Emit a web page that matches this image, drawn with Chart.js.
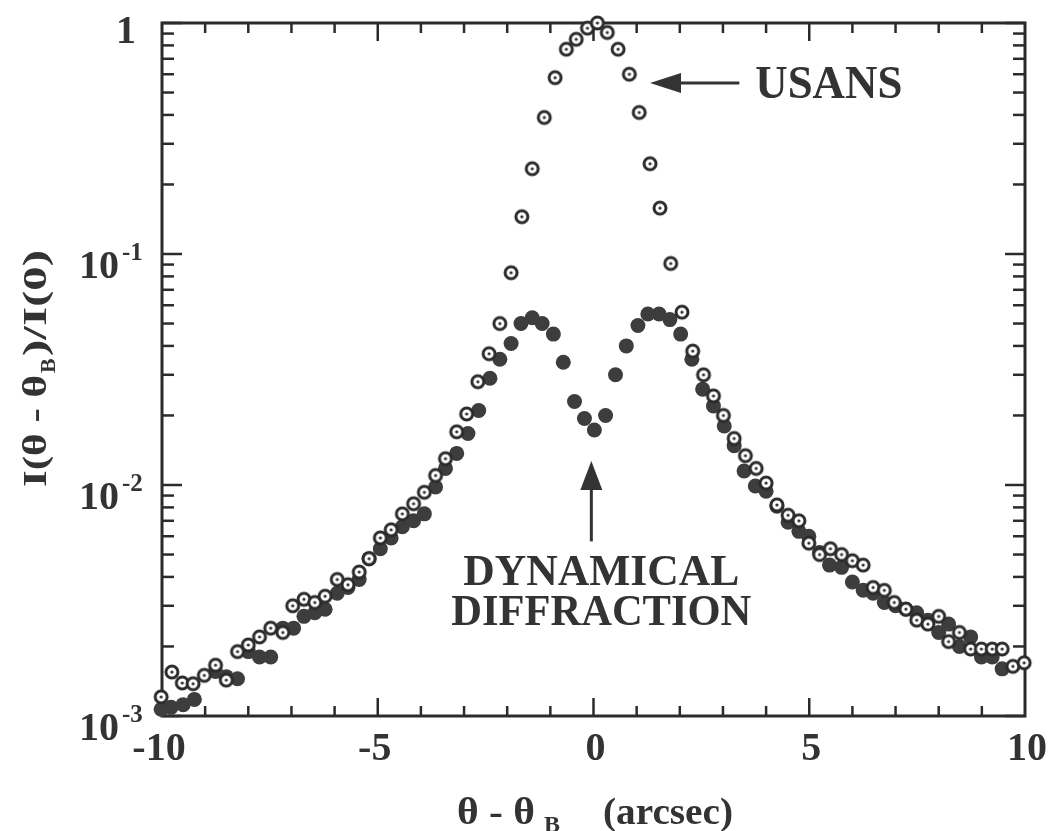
<!DOCTYPE html>
<html><head><meta charset="utf-8">
<script src="https://cdn.jsdelivr.net/npm/chart.js@4/dist/chart.umd.min.js"></script>
<style>html,body{margin:0;padding:0;background:#fff;}canvas{display:block;}</style>
</head><body>
<canvas id="c" width="1052" height="831" style="width:1052px;height:831px"></canvas>
<script>
// ---- data (theta - theta_B in arcsec, normalised intensity) ----
const usansX = [-10.02,-9.77,-9.53,-9.28,-9.02,-8.76,-8.51,-8.25,-8.0,-7.74,-7.48,-7.2,-6.97,-6.71,-6.46,-6.22,-5.94,-5.69,-5.43,-5.2,-4.94,-4.69,-4.43,-4.17,-3.92,-3.66,-3.43,-3.17,-2.94,-2.68,-2.42,-2.17,-1.91,-1.66,-1.42,-1.14,-0.89,-0.63,-0.40,-0.14,0.09,0.32,0.57,0.83,1.06,1.31,1.54,1.79,2.05,2.3,2.55,2.78,3.01,3.26,3.52,3.77,4.0,4.25,4.51,4.76,4.99,5.24,5.49,5.75,6.0,6.25,6.48,6.74,6.97,7.24,7.49,7.75,8.0,8.23,8.48,8.74,8.99,9.24,9.47,9.72,9.98];
const usansY = [0.00121,0.00155,0.00139,0.00138,0.0015,0.00166,0.00143,0.0019,0.00203,0.0022,0.0024,0.0023,0.0030,0.0032,0.0031,0.0033,0.0039,0.0037,0.0042,0.0048,0.0059,0.0064,0.0075,0.0083,0.0093,0.011,0.013,0.017,0.0203,0.028,0.037,0.050,0.083,0.145,0.234,0.39,0.58,0.77,0.85,0.95,1.0,0.91,0.77,0.60,0.41,0.246,0.158,0.091,0.056,0.038,0.030,0.0243,0.020,0.0159,0.0134,0.0118,0.0102,0.0082,0.0074,0.0070,0.0056,0.0050,0.0053,0.0050,0.0047,0.0045,0.0036,0.0035,0.0031,0.0029,0.0026,0.0025,0.0027,0.0021,0.0023,0.00195,0.00195,0.00195,0.00195,0.00164,0.0017];
const dynX = [-10.02,-9.79,-9.51,-9.25,-8.76,-8.51,-8.25,-8.0,-7.74,-7.48,-7.2,-6.95,-6.71,-6.46,-6.22,-5.94,-5.69,-5.43,-5.2,-4.94,-4.69,-4.43,-4.17,-3.92,-3.66,-3.43,-3.17,-2.91,-2.66,-2.4,-2.17,-1.91,-1.68,-1.42,-1.19,-0.93,-0.7,-0.44,-0.21,0.02,0.28,0.51,0.76,1.03,1.26,1.52,1.77,2.02,2.28,2.53,2.78,3.03,3.26,3.49,3.75,4.0,4.25,4.51,4.76,4.99,5.24,5.47,5.75,6.0,6.25,6.48,6.74,7.0,7.24,7.49,7.75,8.0,8.23,8.48,8.74,8.99,9.24,9.47];
const dynY = [0.00107,0.00109,0.00112,0.00118,0.00156,0.00148,0.00145,0.0019,0.0018,0.0018,0.0024,0.0024,0.0027,0.0028,0.0029,0.0034,0.0036,0.0039,0.0048,0.0053,0.0059,0.0066,0.0070,0.0075,0.0098,0.0118,0.0137,0.0167,0.021,0.029,0.035,0.041,0.050,0.053,0.050,0.045,0.034,0.023,0.0194,0.0173,0.020,0.030,0.040,0.049,0.055,0.055,0.052,0.045,0.035,0.026,0.022,0.018,0.0148,0.0115,0.0099,0.0094,0.0081,0.0069,0.0063,0.0060,0.0051,0.0045,0.0044,0.0038,0.0035,0.0034,0.0031,0.0030,0.0029,0.0028,0.0026,0.0023,0.0025,0.0020,0.0022,0.0018,0.0018,0.0016];

const xTickValues = [-10, -5, 0, 5, 10];
const xTickLabels = ['-10', '-5', '0', '5', '10'];
const yTickValues = [1, 0.1, 0.01, 0.001];
const yTickBases = ['1', '10', '10', '10'];
const yTickExponents = ['', '-1', '-2', '-3'];

// annotation anchors (data coordinates)
const usansLabel = {text: 'USANS', x: 3.75, y: 0.555};
const usansArrow = {xTail: 3.38, xTip: 1.31, y: 0.55};
const dynLabel = {lines: ['DYNAMICAL', 'DIFFRACTION'], x: 0.18, y1: 0.0037, y2: 0.00248};
const dynArrow = {x: -0.05, yTail: 0.0057, yTip: 0.0127};

const INK = '#2b2b2b';
const SERIF = '"Liberation Serif", "Times New Roman", serif';

// marker: open circle with a centre dot
function makeRing() {
  const c = document.createElement('canvas');
  c.width = 18; c.height = 18;
  const g = c.getContext('2d');
  g.beginPath(); g.arc(9, 9, 6, 0, Math.PI * 2);
  g.fillStyle = '#fff'; g.fill();
  g.lineWidth = 3; g.strokeStyle = INK; g.stroke();
  g.beginPath(); g.arc(9, 9, 1.6, 0, Math.PI * 2);
  g.fillStyle = INK; g.fill();
  return c;
}

function line(ctx, x1, y1, x2, y2) {
  ctx.beginPath(); ctx.moveTo(x1, y1); ctx.lineTo(x2, y2); ctx.stroke();
}
function fitText(ctx, text, x, y, font, width, align) {
  ctx.save();
  ctx.font = font;
  const w = ctx.measureText(text).width;
  const s = width / w;
  let left = x;
  if (align === 'center') left = x - width / 2;
  ctx.translate(left, y);
  ctx.scale(s, 1);
  ctx.textAlign = 'left';
  ctx.fillText(text, 0, 0);
  ctx.restore();
}

const framePlugin = {
  id: 'frame',
  beforeDatasetsDraw(chart) {
    const {ctx, chartArea: a, scales: {x, y}} = chart;
    ctx.save();
    ctx.strokeStyle = INK;
    ctx.lineCap = 'butt';
    ctx.lineWidth = 2.5;
    for (let v = -9; v <= 9; v++) {
      const px = x.getPixelForValue(v);
      const L = (v % 5 === 0) ? 18 : 10;
      line(ctx, px, a.bottom, px, a.bottom - L);
      line(ctx, px, a.top, px, a.top + L);
    }
    for (let e = -3; e <= 0; e++) {
      for (let k = 1; k <= 9; k++) {
        const v = k * Math.pow(10, e);
        if (v > 1.0001) break;
        const py = y.getPixelForValue(v);
        const L = k === 1 ? 20 : 12;
        line(ctx, a.left, py, a.left + L, py);
        line(ctx, a.right, py, a.right - L, py);
      }
    }
    ctx.lineWidth = 3;
    ctx.strokeRect(a.left, a.top, a.right - a.left, a.bottom - a.top);
    ctx.restore();
  },
  afterDraw(chart) {
    const {ctx, chartArea: a, scales: {x, y}} = chart;
    ctx.save();
    ctx.fillStyle = '#333';
    ctx.strokeStyle = '#333';
    ctx.textBaseline = 'alphabetic';

    // x tick labels
    ctx.font = 'bold 40px ' + SERIF;
    ctx.textAlign = 'center';
    xTickValues.forEach((v, i) => {
      ctx.fillText(xTickLabels[i], x.getPixelForValue(v) + (v < 0 ? -3 : 2), a.bottom + 44);
    });

    // y tick labels
    yTickValues.forEach((v, i) => {
      const py = y.getPixelForValue(v);
      ctx.font = 'bold 40px ' + SERIF;
      ctx.textAlign = 'right';
      if (yTickExponents[i] === '') {
        ctx.fillText(yTickBases[i], 136, py + 20);
      } else {
        ctx.fillText(yTickBases[i], 119, py + 24);
        ctx.font = 'bold 25px ' + SERIF;
        ctx.textAlign = 'left';
        ctx.fillText(yTickExponents[i], 122, py + 6);
      }
    });

    // x axis title: θ - θ_B  (arcsec)
    ctx.textAlign = 'left';
    const tY = 824;
    fitText(ctx, 'θ - θ', 457, tY, 'bold 38px ' + SERIF, 78, 'left');
    ctx.font = 'bold 24px ' + SERIF;
    ctx.fillText('B', 544, tY + 8);
    fitText(ctx, '(arcsec)', 603, tY, 'bold 38px ' + SERIF, 130, 'left');

    // y axis title (rotated)
    ctx.save();
    ctx.translate(46, 487);
    ctx.rotate(-Math.PI / 2);
    fitText(ctx, 'I(θ - θ', 0, 0, 'bold 34px ' + SERIF, 112, 'left');
    ctx.font = 'bold 22px ' + SERIF;
    ctx.fillText('B', 114, 9);
    fitText(ctx, ')/I(0)', 131, 0, 'bold 34px ' + SERIF, 106, 'left');
    ctx.restore();

    // USANS label and arrow
    const uy = y.getPixelForValue(usansLabel.y);
    fitText(ctx, usansLabel.text, x.getPixelForValue(usansLabel.x), uy + 16, 'bold 46px ' + SERIF, 147, 'left');
    const ay = y.getPixelForValue(usansArrow.y);
    const tipX = x.getPixelForValue(usansArrow.xTip);
    const tailX = x.getPixelForValue(usansArrow.xTail);
    ctx.lineWidth = 3;
    line(ctx, tailX, ay, tipX + 25, ay);
    ctx.beginPath();
    ctx.moveTo(tipX, ay); ctx.lineTo(tipX + 31, ay - 10); ctx.lineTo(tipX + 31, ay + 10); ctx.closePath();
    ctx.fill();

    // DYNAMICAL DIFFRACTION label and arrow
    const dx = x.getPixelForValue(dynLabel.x);
    fitText(ctx, dynLabel.lines[0], dx, y.getPixelForValue(dynLabel.y1), 'bold 44px ' + SERIF, 276, 'center');
    fitText(ctx, dynLabel.lines[1], dx, y.getPixelForValue(dynLabel.y2), 'bold 44px ' + SERIF, 300, 'center');
    const vx = x.getPixelForValue(dynArrow.x);
    const vTip = y.getPixelForValue(dynArrow.yTip);
    const vTail = y.getPixelForValue(dynArrow.yTail);
    line(ctx, vx, vTail, vx, vTip + 24);
    ctx.beginPath();
    ctx.moveTo(vx, vTip); ctx.lineTo(vx - 11, vTip + 29); ctx.lineTo(vx + 11, vTip + 29); ctx.closePath();
    ctx.fill();
    ctx.restore();
  }
};

const toPts = (xs, ys) => xs.map((v, i) => ({x: v, y: ys[i]}));

new Chart(document.getElementById('c'), {
  type: 'scatter',
  data: {
    datasets: [
      {
        label: 'USANS',
        data: toPts(usansX, usansY),
        pointStyle: makeRing(),
        pointRadius: 8,
        showLine: false,
        clip: false
      },
      {
        label: 'Dynamical diffraction',
        data: toPts(dynX, dynY),
        pointStyle: 'circle',
        pointRadius: 7.5,
        backgroundColor: '#3d3d3d',
        borderColor: '#3d3d3d',
        borderWidth: 0,
        showLine: false,
        clip: false
      }
    ]
  },
  options: {
    responsive: false,
    devicePixelRatio: 1,
    animation: false,
    events: [],
    layout: {padding: {left: 162, right: 27, top: 23, bottom: 115}},
    plugins: {legend: {display: false}, tooltip: {enabled: false}},
    scales: {
      x: {type: 'linear', min: -10, max: 10, display: false},
      y: {type: 'logarithmic', min: 0.001, max: 1, display: false}
    }
  },
  plugins: [framePlugin]
});
</script>
</body></html>
